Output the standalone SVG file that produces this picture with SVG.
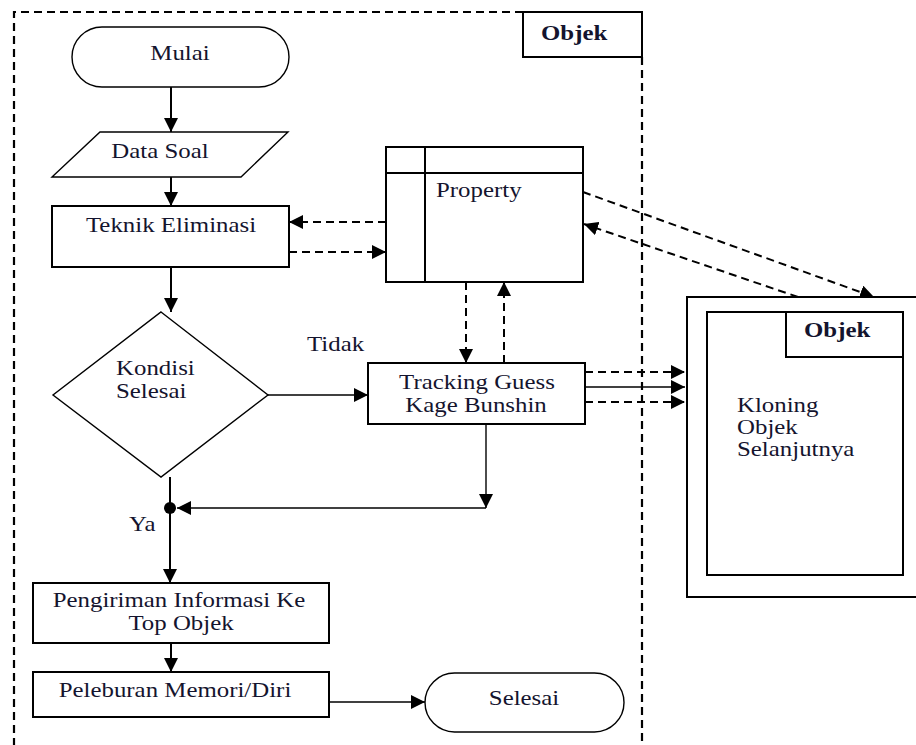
<svg xmlns="http://www.w3.org/2000/svg" width="916" height="745" viewBox="0 0 916 745">
<defs>
<style>
.box{fill:#fff;stroke:#000;stroke-width:2}
.thin{fill:#fff;stroke:#000;stroke-width:1.4}
.frame{fill:none;stroke:#000;stroke-width:2.2;stroke-dasharray:8 5}
.c{fill:none;stroke:#000;stroke-width:2}
.cs{fill:none;stroke:#000;stroke-width:1.4}
.cd{fill:none;stroke:#000;stroke-width:2;stroke-dasharray:8 5}
.t{font-family:"Liberation Serif","Times New Roman",serif;font-size:22px;fill:#14142e}
.b{font-weight:bold}
</style>
<marker id="ah" markerUnits="userSpaceOnUse" markerWidth="14" markerHeight="14" refX="14" refY="7" orient="auto" viewBox="0 0 14 14">
<path d="M0,0 L14,7 L0,14 z" fill="#000"/>
</marker>
</defs>
<rect width="916" height="745" fill="#fff"/>

<g id="frame">
<path class="frame" d="M523 12 H14 V745"/>
<path class="frame" d="M642 57 V745"/>
<rect class="box" x="523" y="12" width="119" height="45"/>
<text class="t b" transform="translate(541,40) scale(1.13,1)">Objek</text>
</g>

<g id="connectors">
<line class="c" x1="171" y1="87" x2="171" y2="132" marker-end="url(#ah)"/>
<line class="c" x1="171" y1="177" x2="171" y2="206" marker-end="url(#ah)"/>
<line class="cd" x1="386" y1="222" x2="289" y2="222" marker-end="url(#ah)"/>
<line class="cd" x1="289" y1="252" x2="386" y2="252" marker-end="url(#ah)"/>
<line class="c" x1="171" y1="267" x2="171" y2="312" marker-end="url(#ah)"/>
<line class="cs" x1="268" y1="395" x2="368" y2="395" marker-end="url(#ah)"/>
<line class="cd" x1="466" y1="282" x2="466" y2="363" marker-end="url(#ah)"/>
<line class="cd" x1="504" y1="363" x2="504" y2="282" marker-end="url(#ah)"/>
<line class="cd" x1="583" y1="192" x2="874" y2="297" marker-end="url(#ah)"/>
<line class="cd" x1="798" y1="297" x2="584" y2="224" marker-end="url(#ah)"/>
<line class="cd" x1="585" y1="372" x2="685" y2="372" marker-end="url(#ah)"/>
<line class="cs" x1="585" y1="387" x2="685" y2="387" marker-end="url(#ah)"/>
<line class="cd" x1="585" y1="402" x2="685" y2="402" marker-end="url(#ah)"/>
<line class="cs" x1="486" y1="424" x2="486" y2="508" marker-end="url(#ah)"/>
<line class="cs" x1="486" y1="508" x2="177" y2="508" marker-end="url(#ah)"/>
<circle cx="170" cy="508" r="6" fill="#000"/>
<line class="c" x1="170" y1="477" x2="170" y2="583" marker-end="url(#ah)"/>
<line class="c" x1="171" y1="643" x2="171" y2="672" marker-end="url(#ah)"/>
<line class="cs" x1="329" y1="702" x2="425" y2="702" marker-end="url(#ah)"/>
<text class="t" transform="translate(307,351) scale(1.13,1)">Tidak</text>
<text class="t" transform="translate(129,531) scale(1.13,1)">Ya</text>
</g>

<g id="mulai">
<rect class="thin" x="72" y="27" width="217" height="60" rx="30"/>
<text class="t" text-anchor="middle" transform="translate(180,60) scale(1.13,1)">Mulai</text>
</g>

<g id="data-soal">
<polygon class="thin" points="100,132 288,132 241,177 52,177"/>
<text class="t" text-anchor="middle" transform="translate(160,158) scale(1.13,1)">Data Soal</text>
</g>

<g id="teknik-eliminasi">
<rect class="box" x="52" y="206" width="237" height="61"/>
<text class="t" text-anchor="middle" transform="translate(171,232) scale(1.13,1)">Teknik Eliminasi</text>
</g>

<g id="property">
<rect class="box" x="386" y="147" width="197" height="135"/>
<line class="c" x1="386" y1="173" x2="583" y2="173"/>
<line class="c" x1="425" y1="147" x2="425" y2="282"/>
<text class="t" transform="translate(436,197) scale(1.13,1)">Property</text>
</g>

<g id="kondisi-selesai">
<polygon class="thin" points="161,312 268,395 161,477 53,395"/>
<text class="t" transform="translate(116,375) scale(1.13,1)">Kondisi</text>
<text class="t" transform="translate(116,398) scale(1.13,1)">Selesai</text>
</g>

<g id="tracking">
<rect class="box" x="368" y="363" width="217" height="61"/>
<text class="t" text-anchor="middle" transform="translate(477,389) scale(1.13,1)">Tracking Guess</text>
<text class="t" text-anchor="middle" transform="translate(476,412) scale(1.13,1)">Kage Bunshin</text>
</g>

<g id="objek-kloning">
<rect class="box" x="687" y="297" width="240" height="300"/>
<rect class="box" x="707" y="312" width="196" height="263"/>
<path class="c" d="M786 312 V357 H903"/>
<text class="t b" transform="translate(804,337) scale(1.13,1)">Objek</text>
<text class="t" transform="translate(737,412) scale(1.13,1)">Kloning</text>
<text class="t" transform="translate(737,434) scale(1.13,1)">Objek</text>
<text class="t" transform="translate(737,456) scale(1.13,1)">Selanjutnya</text>
</g>

<g id="pengiriman">
<rect class="box" x="33" y="583" width="296" height="60"/>
<text class="t" text-anchor="middle" transform="translate(179,607) scale(1.13,1)">Pengiriman Informasi Ke</text>
<text class="t" text-anchor="middle" transform="translate(181,630) scale(1.13,1)">Top Objek</text>
</g>

<g id="peleburan">
<rect class="box" x="33" y="672" width="296" height="45"/>
<text class="t" text-anchor="middle" transform="translate(175,697) scale(1.13,1)">Peleburan Memori/Diri</text>
</g>

<g id="selesai">
<rect class="thin" x="425" y="673" width="199" height="59" rx="29.5"/>
<text class="t" text-anchor="middle" transform="translate(524,705) scale(1.13,1)">Selesai</text>
</g>
</svg>
